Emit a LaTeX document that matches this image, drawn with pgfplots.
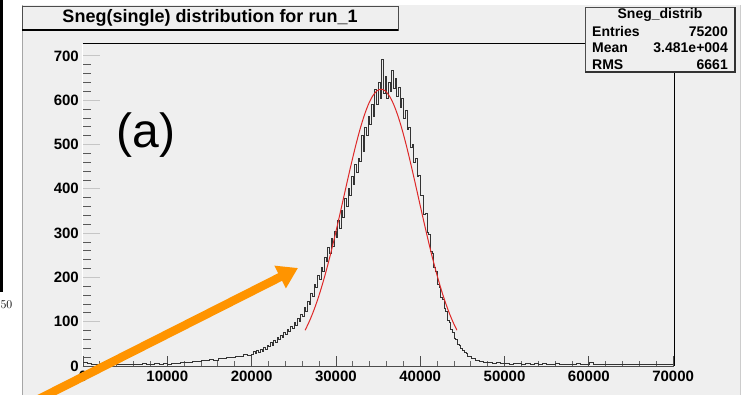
\documentclass[border=0pt]{standalone}
\usepackage{fontspec}
\setsansfont{Liberation Sans}
\usepackage{pgfplots}
\pgfplotsset{compat=1.18}
\usetikzlibrary{arrows.meta,backgrounds}
\definecolor{bgc}{RGB}{239,239,239}
\definecolor{arrowor}{RGB}{255,148,0}
\definecolor{fitred}{RGB}{222,40,40}
\begin{document}
\begin{tikzpicture}[x=1pt,y=1pt,font=\sffamily]
% axis carrying the y ticks
\begin{axis}[at={(0,0)}, anchor=origin, scale only axis,
  width=591pt, height=322pt,
  xmin=0, xmax=70100, ymin=0, ymax=727,
  axis line style={draw=none},
  xtick=\empty, ytick={0,100,...,700}, minor y tick num=4,
  major tick length=17pt, minor tick length=8.5pt,
  ytick pos=left, tick align=inside,
  major tick style={gray!45, line width=0.9pt},
  minor tick style={black!65, line width=0.9pt},
  yticklabel style={font=\sffamily\bfseries\fontsize{15}{15}\selectfont, inner sep=0pt, xshift=-4pt},
  /pgf/number format/assume math mode=true, scaled y ticks=false]
\end{axis}

% axis carrying the x ticks and data
\begin{axis}[at={(0,0)}, anchor=origin, scale only axis,
  width=591pt, height=322pt,
  xmin=0, xmax=70100, ymin=0, ymax=727,
  axis line style={draw=none},
  ytick=\empty, xtick={0,10000,...,70000}, minor x tick num=4,
  major tick length=10pt, minor tick length=5pt,
  xtick pos=bottom, tick align=inside,
  major tick style={black!70, line width=0.8pt},
  minor tick style={black!60, line width=0.8pt},
  xticklabel style={font=\sffamily\bfseries\fontsize{15}{15}\selectfont, inner sep=0pt, yshift=-5pt},
  scaled x ticks=false,
  /pgf/number format/.cd, 1000 sep={}, assume math mode=true]
\coordinate (O) at (axis cs:0,0);
\addplot[const plot, black!80, line width=0.45pt] coordinates {
(0,9)(500,6)(1000,5)(1500,4)(2000,6)(2500,3)(3000,5)(3500,4)(4000,3)(4500,5)
(5000,4)(5500,3)(6000,5)(6500,4)(7000,6)(7500,4)(8000,5)(8500,6)(9000,4)(9500,6)
(10000,5)(10500,7)(11000,6)(11500,8)(12000,9)(12500,8)(13000,11)(13500,10)(14000,13)(14500,12)
(15000,15)(15500,14)(16000,17)(16500,18)(17000,20)(17500,19)(18000,23)(18500,22)(19000,26)(19500,25)
(20000,27)(20200,34)(20400,29)(20600,36)(20800,31)(21000,38)(21200,33)(21400,42)(21600,38)(21800,47)
(22000,44)(22200,53)(22400,48)(22600,58)(22800,54)(23000,65)(23200,60)(23400,70)(23600,66)(23800,77)
(24000,72)(24200,84)(24400,78)(24600,90)(24800,85)(25000,99)(25200,92)(25400,108)(25600,100)(25800,118)
(26000,112)(26200,132)(26400,124)(26600,146)(26800,140)(27000,165)(27200,158)(27400,184)(27600,177)(27800,205)
(28000,196)(28200,224)(28400,215)(28600,246)(28800,236)(29000,268)(29200,255)(29400,288)(29600,270)(29800,305)
(30000,290)(30200,328)(30400,312)(30600,352)(30800,336)(31000,378)(31200,360)(31400,402)(31600,385)(31800,428)
(32000,410)(32200,455)(32400,438)(32600,470)(32800,462)(33000,520)(33200,485)(33400,540)(33600,522)(33800,565)
(34000,545)(34200,590)(34400,565)(34600,625)(34800,592)(35000,640)(35200,605)(35400,693)(35600,615)(35800,655)
(36000,605)(36200,640)(36400,620)(36600,668)(36800,628)(37000,650)(37200,610)(37400,630)(37600,585)(37800,605)
(38000,560)(38200,578)(38400,535)(38600,540)(38800,495)(39000,500)(39200,460)(39400,468)(39600,428)(39800,430)
(40000,385)(40200,385)(40400,342)(40600,345)(40800,302)(41000,298)(41200,260)(41400,255)(41600,222)(41800,215)
(42000,185)(42200,178)(42400,155)(42600,150)(42800,130)(43000,124)(43200,104)(43400,98)(43600,82)(43800,76)
(44000,63)(44200,60)(44400,50)(44600,47)(44800,40)(45000,36)(45200,30)(45400,28)(45600,22)(45800,21)
(46000,17)(46500,14)(47000,11)(47500,9)(48000,8)(48500,7)(49000,8)(49500,6)
(50000,7)(50500,5)(51000,7)(51500,6)(52000,5)(52500,7)(53000,5)(53500,6)(54000,4)(54500,6)
(55000,5)(55500,4)(56000,6)(56500,5)(57000,4)(57500,5)(58000,4)(58500,6)(59000,5)(59500,4)
(60000,8)(60500,4)(61000,5)(61500,3)(62000,5)(62500,4)(63000,5)(63500,3)(64000,4)(64500,5)
(65000,3)(65500,4)(66000,5)(66500,3)(67000,4)(67500,5)(68000,3)(68500,4)(69000,5)(69500,3)(70000,3)
};
\addplot[fitred, line width=1pt, smooth] coordinates {
(26350,80.8)(26850,100.9)(27350,124.2)(27850,151.0)(28350,181.4)(28850,215.1)(29350,251.8)
(29850,291.2)(30350,332.5)(30850,374.8)(31350,417.3)(31850,458.7)(32350,498.0)(32850,533.8)
(33350,565.0)(33850,590.5)(34350,609.4)(34850,621.1)(35350,625.0)(35850,621.1)(36350,609.4)
(36850,590.5)(37350,565.0)(37850,533.8)(38350,498.0)(38850,458.7)(39350,417.3)(39850,374.8)
(40350,332.5)(40850,291.2)(41350,251.8)(41850,215.1)(42350,181.4)(42850,151.0)(43350,124.2)
(43850,100.9)(44350,80.8)
};
\end{axis}

\begin{scope}[shift={(O)}, xshift=-83pt, yshift=-29pt]
\begin{scope}[on background layer]
\fill[white] (0,0) rectangle (742,395);
\fill[bgc] (22,0) rectangle (740,390);
\draw[gray!70, line width=0.8pt] (22,0) -- (22,390);
\draw[gray!40, line width=0.6pt] (740,0) -- (740,390);
\end{scope}

% leftover of neighbouring panel
\fill[black] (0,103) rectangle (3,395);
\node[anchor=east, font=\rmfamily\fontsize{12}{12}\selectfont, inner sep=0pt] at (12.5,90) {50};

% frame
\draw[gray!60!black, line width=0.8pt] (83,29) -- (674,29);
\draw[white, line width=1pt] (83,29) -- (83,351);
\draw[black, line width=1pt] (83,351) -- (674,351) -- (674,29);

% title box
\filldraw[fill=bgc, draw=gray!60!black, line width=0.8pt] (22,365) rectangle (398,389);
\draw[black, line width=1.5pt] (22,365) -- (398,365);
\node[font=\sffamily\bfseries\fontsize{18}{18}\selectfont] at (210,377) {Sneg(single) distribution for run\_1};

% stats box
\filldraw[fill=bgc, draw=gray!60!black, line width=0.8pt] (585,323) rectangle (735,388);
\draw[gray!40!black, line width=1.3pt] (585,323) -- (735,323) -- (735,388);
\begin{scope}[every node/.style={font=\sffamily\bfseries\fontsize{14}{14}\selectfont, inner sep=0pt}]
\node at (660,380) {Sneg\_distrib};
\node[anchor=west] at (592,363) {Entries};
\node[anchor=east] at (728,363) {75200};
\node[anchor=west] at (592,347) {Mean};
\node[anchor=east] at (728,347) {3.481e+004};
\node[anchor=west] at (592,330) {RMS};
\node[anchor=east] at (728,330) {6661};
\end{scope}

% panel label
\node[font=\sffamily\fontsize{48}{48}\selectfont] at (146,260) {(a)};

% arrow
\draw[arrowor, line width=8.5pt, -{Triangle[width=24pt,length=20pt]}] (33,-7) -- (298,127);

\pgfresetboundingbox
\useasboundingbox (0,0) rectangle (742,395);
\end{scope}
\end{tikzpicture}
\end{document}
